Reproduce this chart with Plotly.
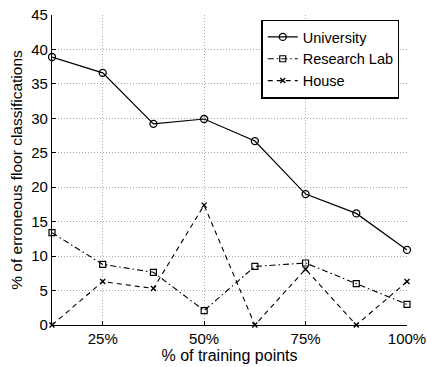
import plotly.graph_objects as go

# Share of training points used (percent)
training_pct = [12.5, 25, 37.5, 50, 62.5, 75, 87.5, 100]

# Percentage of erroneous floor classifications per site
university = [38.9, 36.6, 29.2, 29.9, 26.7, 19.0, 16.2, 10.9]
research_lab = [13.4, 8.8, 7.65, 2.1, 8.5, 9.0, 6.0, 3.0]
house = [0.0, 6.3, 5.3, 17.4, 0.0, 8.1, 0.0, 6.3]

x_tick_vals = [25, 50, 75, 100]
x_tick_text = ["25%", "50%", "75%", "100%"]
y_tick_vals = [0, 5, 10, 15, 20, 25, 30, 35, 40, 45]

FONT = "Liberation Sans, Arial, Helvetica, sans-serif"

fig = go.Figure()

fig.add_trace(go.Scatter(
    x=training_pct, y=university, name="University",
    mode="lines+markers",
    line=dict(color="black", width=1.2, dash="solid"),
    marker=dict(symbol="circle-open", size=7, color="black", line=dict(width=1.3)),
    cliponaxis=False,
))
fig.add_trace(go.Scatter(
    x=training_pct, y=research_lab, name="Research Lab",
    mode="lines+markers",
    line=dict(color="black", width=1.1, dash="6px,3px,1.5px,3px"),
    marker=dict(symbol="square-open", size=6, color="black", line=dict(width=1.2)),
    cliponaxis=False,
))
fig.add_trace(go.Scatter(
    x=training_pct, y=house, name="House",
    mode="lines+markers",
    line=dict(color="black", width=1.1, dash="5px,4px"),
    marker=dict(symbol="x-thin-open", size=5, color="black", line=dict(width=1.4)),
    cliponaxis=False,
))

axis_common = dict(
    showline=True, linecolor="black", linewidth=1.3, mirror=False,
    showgrid=True, gridcolor="#a8a8a8", gridwidth=1, griddash="1px,2px",
    zeroline=False, ticks="inside", ticklen=4, tickcolor="black",
    tickfont=dict(family=FONT, size=15, color="black"),
    ticklabeloverflow="allow", automargin=False,
)

fig.update_layout(
    width=427, height=367,
    margin=dict(l=52, r=20, t=15, b=42),
    paper_bgcolor="white", plot_bgcolor="white",
    font=dict(family=FONT, size=14, color="black"),
    showlegend=True,
    legend=dict(
        x=0.59, y=0.985, xanchor="left", yanchor="top",
        bordercolor="black", borderwidth=1.3, bgcolor="white",
        font=dict(family=FONT, size=14.5, color="black"),
        tracegroupgap=0, itemwidth=30,
    ),
    xaxis=dict(
        range=[12.5, 100.0001], tickvals=x_tick_vals, ticktext=x_tick_text,
        title=dict(text="% of training points", standoff=2,
                   font=dict(family=FONT, size=16, color="black")),
        **axis_common,
    ),
    yaxis=dict(
        range=[0, 45.0001], tickvals=y_tick_vals,
        title=dict(text="% of erroneous floor classifications", standoff=4,
                   font=dict(family=FONT, size=15.5, color="black")),
        **axis_common,
    ),
)

fig.write_html("out.html")
